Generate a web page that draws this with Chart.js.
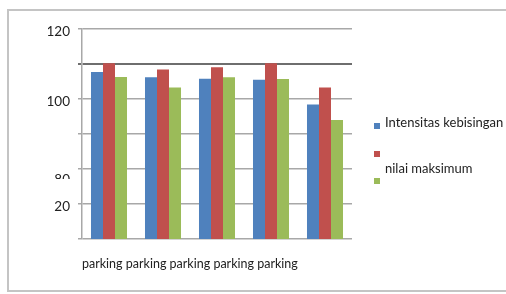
<!DOCTYPE html>
<html>
<head>
<meta charset="utf-8">
<script src="https://cdn.jsdelivr.net/npm/chart.js@4.4.1/dist/chart.umd.min.js"></script>
<style>
    html, body { margin: 0; padding: 0; background: #fff; }
    #wrap { position: relative; width: 506px; height: 294px; overflow: hidden; }
    #frame { position: absolute; left: 7px; top: 9px; width: 520px; height: 283px; border: 2px solid #c4c4c4; border-right: none; box-sizing: border-box; }
    #chart { position: absolute; left: 0; top: 0; }
    .legend-item { position: absolute; left: 374px; font-family: Lato, sans-serif; font-size: 13px; color: #222; white-space: nowrap; }
    .legend-box { position: absolute; width: 6px; height: 6px; }
    .legend-text { position: absolute; left: 11px; top: -10px; }
</style>
</head>
<body>
<div id="wrap">
    <div id="frame"></div>
    <canvas id="chart" width="506" height="294"></canvas>
    <div id="legend"></div>
</div>
<script>
// categories and series
var categories = ["parking", "parking", "parking", "parking", "parking"];
var seriesNames = ["Intensitas kebisingan", "", "nilai maksimum"];
var intensitas = [107.7, 106.2, 105.8, 105.5, 98.4];
var seriesRed = [110.2, 108.4, 109.1, 110.2, 103.3];
var nilaiMaksimum = [106.3, 103.3, 106.2, 105.7, 94.0];

// y ticks as they are printed (the "80" is cut off in the original)
var yTickValues = [120, 110, 100, 90, 80, 70, 60];
var yTickLabels = ["120", "", "100", "", ["", "80"], "20", ""];

var colors = ["#4f81bd", "#c0504d", "#9bbb59"];
var allSeries = [intensitas, seriesRed, nilaiMaksimum];

var _datasets = [];
for (var i = 0; i < allSeries.length; i++) {
    _datasets.push({
        label: seriesNames[i],
        data: allSeries[i],
        backgroundColor: colors[i],
        borderWidth: 0,
        barPercentage: 1.0,
        categoryPercentage: 0.667
    });
}

// white patch that hides the lower half of the "80" label, like in the picture
var cutLabel = {
    id: 'cutLabel',
    afterDraw: function (chart) {
        var y = chart.scales.y;
        var py = y.getPixelForValue(80);
        var ctx = chart.ctx;
        ctx.save();
        ctx.fillStyle = '#fff';
        ctx.fillRect(y.left, py + 10, y.width - 6, 14);
        ctx.restore();
    }
};

new Chart(document.getElementById('chart'), {
    type: 'bar',
    data: {
        labels: categories,
        datasets: _datasets
    },
    options: {
        responsive: false,
        animation: false,
        layout: {
            padding: { left: 48, right: 154, top: 29, bottom: 15 }
        },
        plugins: {
            legend: { display: false },
            tooltip: { enabled: false }
        },
        scales: {
            x: {
                grid: { display: false },
                border: { display: false },
                ticks: { display: false },
                title: {
                    display: true,
                    text: categories.join(' '),
                    align: 'start',
                    color: '#222',
                    font: { family: 'Lato', size: 12.5 },
                    padding: { top: 0, bottom: 8 }
                },
                afterFit: function (scale) { scale.height = 40; }
            },
            y: {
                min: 60,
                max: 120,
                afterBuildTicks: function (scale) {
                    scale.ticks = yTickValues.map(function (v) { return { value: v }; });
                },
                ticks: {
                    autoSkip: false,
                    padding: 8,
                    labelOffset: 3,
                    color: '#222',
                    font: { family: 'Lato', size: 13.5 },
                    callback: function (value) {
                        var idx = yTickValues.indexOf(value);
                        return idx >= 0 ? yTickLabels[idx] : '';
                    }
                },
                grid: {
                    tickLength: 4,
                    color: function (c) { return c.tick && c.tick.value == 110 ? '#6e6e6e' : '#a8a8a8'; },
                    lineWidth: function (c) { return c.tick && c.tick.value == 110 ? 2 : 1.5; }
                },
                border: { color: '#a8a8a8', width: 1.5 },
                afterFit: function (scale) { scale.width = 34; }
            }
        }
    },
    plugins: [cutLabel]
});

// legend drawn as html, placed like the original (label of the 3rd sits between 2nd and 3rd box)
var legendTops = [123, 151, 178];
var legendTextTops = [-9, 0, -18];
var legendEl = document.getElementById('legend');
for (var i = 0; i < seriesNames.length; i++) {
    var item = document.createElement('div');
    item.className = 'legend-item';
    item.style.top = legendTops[i] + 'px';
    var box = document.createElement('div');
    box.className = 'legend-box';
    box.style.background = colors[i];
    item.appendChild(box);
    var txt = document.createElement('div');
    txt.className = 'legend-text';
    txt.style.top = legendTextTops[i] + 'px';
    txt.textContent = seriesNames[i];
    item.appendChild(txt);
    legendEl.appendChild(item);
}
</script>
</body>
</html>
